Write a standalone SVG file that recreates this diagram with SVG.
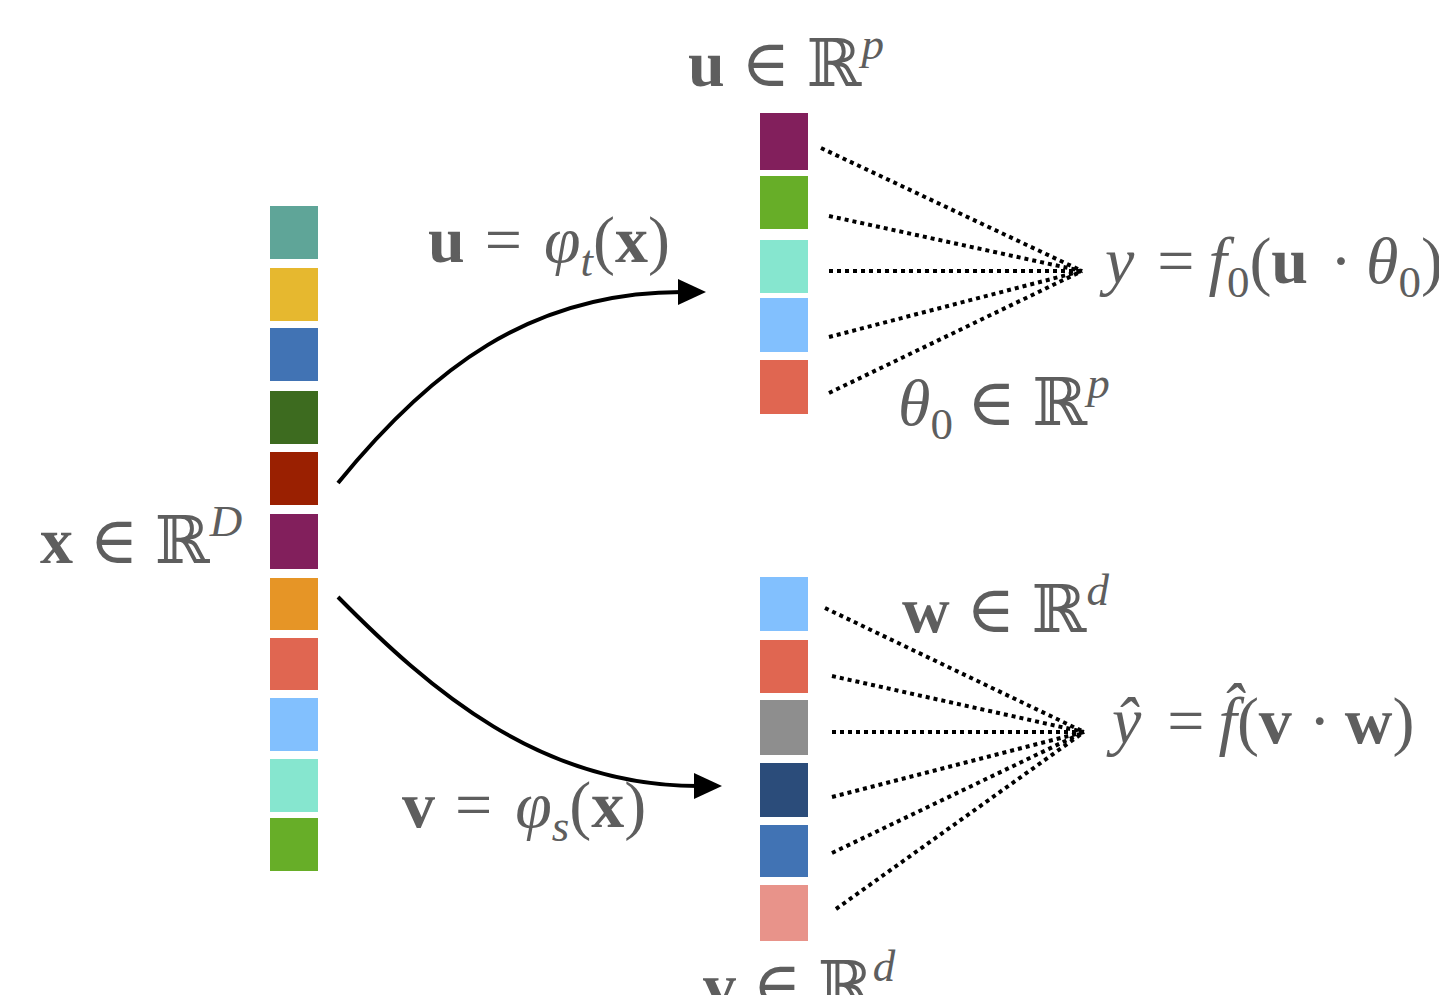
<svg xmlns="http://www.w3.org/2000/svg" width="1439" height="995" viewBox="0 0 1439 995">
<style>
text{font-family:"Liberation Serif","DejaVu Serif",serif;fill:#5e5e5e;font-size:66px}
.b{font-weight:bold}
.i{font-style:italic}
.s{font-size:45px}
.dot{fill:none;stroke:#000;stroke-width:4;stroke-dasharray:4 4}
.arr{fill:none;stroke:#000;stroke-width:4}
</style>
<defs>
<marker id="ah" markerUnits="userSpaceOnUse" markerWidth="30" markerHeight="30" refX="4" refY="13" orient="auto">
<path d="M0,0 L28,13 L0,26 Z" fill="#000"/>
</marker>
</defs>
<rect width="1439" height="995" fill="#fff"/>

<g id="x-vector">
<rect x="270" y="206" width="48" height="53" fill="#5fa598"/>
<rect x="270" y="268" width="48" height="53" fill="#e6b82f"/>
<rect x="270" y="328" width="48" height="53" fill="#4173b4"/>
<rect x="270" y="391" width="48" height="53" fill="#3d6b1f"/>
<rect x="270" y="452" width="48" height="53" fill="#9a2001"/>
<rect x="270" y="514" width="48" height="55" fill="#821f5c"/>
<rect x="270" y="578" width="48" height="52" fill="#e69526"/>
<rect x="270" y="638" width="48" height="52" fill="#e06651"/>
<rect x="270" y="698" width="48" height="53" fill="#82c0fe"/>
<rect x="270" y="759" width="48" height="53" fill="#86e6cf"/>
<rect x="270" y="818" width="48" height="53" fill="#67ae28"/>
<text x="40" y="563"><tspan class="b">x</tspan> ∈ ℝ<tspan class="i s" dy="-27">D</tspan></text>
</g>

<g id="u-vector">
<rect x="760" y="113" width="48" height="57" fill="#821f5c"/>
<rect x="760" y="176" width="48" height="53" fill="#67ae28"/>
<rect x="760" y="240" width="48" height="53" fill="#86e6cf"/>
<rect x="760" y="298" width="48" height="54" fill="#82c0fe"/>
<rect x="760" y="360" width="48" height="54" fill="#e06651"/>
<text x="688" y="86"><tspan class="b">u</tspan> ∈ ℝ<tspan class="i s" dy="-27">p</tspan></text>
</g>

<g id="v-vector">
<rect x="760" y="577" width="48" height="54" fill="#82c0fe"/>
<rect x="760" y="640" width="48" height="53" fill="#e06651"/>
<rect x="760" y="700" width="48" height="55" fill="#8e8e8e"/>
<rect x="760" y="763" width="48" height="54" fill="#2b4c7a"/>
<rect x="760" y="825" width="48" height="52" fill="#4173b4"/>
<rect x="760" y="885" width="48" height="56" fill="#e8938a"/>
<text x="703" y="1008"><tspan class="b">v</tspan> ∈ ℝ<tspan class="i s" dy="-27">d</tspan></text>
</g>

<g id="y-output">
<text x="1105" y="283"><tspan class="i">y</tspan><tspan dx="23">=</tspan><tspan class="i" dx="14">f</tspan><tspan class="s" dy="14">0</tspan><tspan dy="-14">(</tspan><tspan class="b">u</tspan><tspan dx="22">·</tspan><tspan class="i" dx="14">θ</tspan><tspan class="s" dy="14">0</tspan><tspan dy="-14">)</tspan></text>
<text x="898" y="425"><tspan class="i">θ</tspan><tspan class="s" dy="14">0</tspan><tspan dy="-14" dx="14">∈ ℝ</tspan><tspan class="i s" dy="-27">p</tspan></text>
</g>

<g id="yhat-output">
<text x="1112" y="743"><tspan class="i">ŷ</tspan><tspan dx="26">=</tspan><tspan class="i" dx="14">f̂</tspan>(<tspan class="b">v</tspan><tspan dx="17">·</tspan><tspan class="b" dx="14">w</tspan>)</text>
<text x="902" y="632"><tspan class="b">w</tspan> ∈ ℝ<tspan class="i s" dy="-27">d</tspan></text>
</g>

<g id="phi-labels">
<text x="428" y="262"><tspan class="b">u</tspan><tspan dx="20">=</tspan><tspan class="i" dx="22">φ</tspan><tspan class="i s" dy="14">t</tspan><tspan dy="-14">(</tspan><tspan class="b">x</tspan>)</text>
<text x="402" y="827"><tspan class="b">v</tspan><tspan dx="20">=</tspan><tspan class="i" dx="23">φ</tspan><tspan class="i s" dy="14">s</tspan><tspan dy="-14">(</tspan><tspan class="b">x</tspan>)</text>
</g>

<g id="connectors">
<path class="arr" d="M338,483 C430,370 530,292 682,292" marker-end="url(#ah)"/>
<path class="arr" d="M338,597 C430,690 540,786 698,786" marker-end="url(#ah)"/>
<path class="dot" d="M821,148 L1082,271"/>
<path class="dot" d="M829,216 L1082,271"/>
<path class="dot" d="M829,271 L1082,271"/>
<path class="dot" d="M829,337 L1082,271"/>
<path class="dot" d="M829,393 L1082,271"/>
<path class="dot" d="M825,608 L1084,732"/>
<path class="dot" d="M832,676 L1084,732"/>
<path class="dot" d="M832,732 L1084,732"/>
<path class="dot" d="M832,797 L1084,732"/>
<path class="dot" d="M832,853 L1084,732"/>
<path class="dot" d="M836,909 L1084,732"/>
</g>
</svg>
